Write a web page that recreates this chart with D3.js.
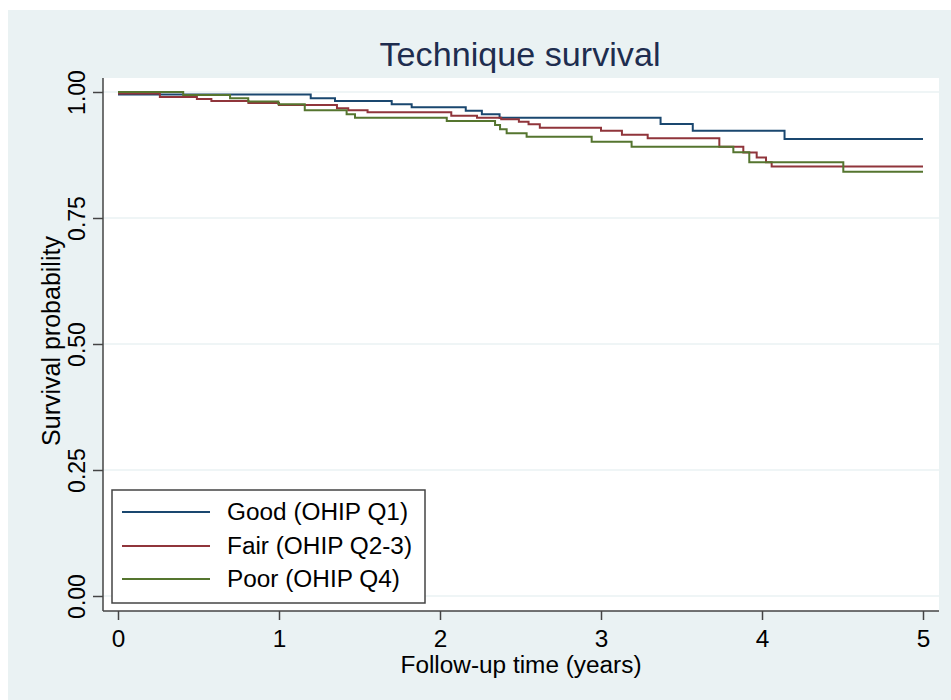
<!DOCTYPE html>
<html>
<head>
<meta charset="utf-8">
<script src="https://cdn.jsdelivr.net/npm/d3@7"></script>
<style>
  html, body { margin: 0; padding: 0; background: #ffffff; }
  svg { display: block; font-family: "Liberation Sans", Arial, Helvetica, sans-serif; }
</style>
</head>
<body>
<svg id="chart" width="951" height="700"></svg>
<script>
// ---- Data (Kaplan-Meier step points: time in years, survival probability) ----
const seriesNames = ["Good (OHIP Q1)", "Fair (OHIP Q2-3)", "Poor (OHIP Q4)"];
const seriesColors = ["#1a476f", "#90353b", "#55752f"];

const goodTimes = [0, 1.197, 1.348, 1.70, 1.824, 2.16, 2.26, 2.37, 3.37, 3.57, 4.14, 5.0];
const goodSurv  = [0.995, 0.9875, 0.982, 0.9755, 0.9696, 0.963, 0.956, 0.949, 0.9365, 0.923, 0.9067, 0.9067];

const fairTimes = [0, 0.26, 0.49, 0.58, 0.81, 1.0, 1.36, 1.43, 1.55, 2.07, 2.23, 2.38, 2.49, 2.55, 2.62, 3.00, 3.13, 3.29, 3.735, 3.884, 3.967, 4.025, 4.06, 5.0];
const fairSurv  = [0.997, 0.990, 0.986, 0.982, 0.978, 0.974, 0.968, 0.964, 0.960, 0.953, 0.949, 0.946, 0.941, 0.936, 0.929, 0.923, 0.915, 0.908, 0.8915, 0.880, 0.870, 0.8605, 0.852, 0.852];

const poorTimes = [0, 0.405, 0.696, 0.809, 0.996, 1.16, 1.42, 1.472, 2.042, 2.342, 2.373, 2.414, 2.538, 2.942, 3.19, 3.822, 3.921, 4.505, 5.0];
const poorSurv  = [1.0, 0.994, 0.9875, 0.981, 0.9755, 0.964, 0.956, 0.949, 0.9425, 0.9345, 0.926, 0.918, 0.9114, 0.9014, 0.8915, 0.8803, 0.8605, 0.842, 0.842];

const xTicks = [0, 1, 2, 3, 4, 5];
const yTicks = [0, 0.25, 0.5, 0.75, 1];

const titleText = "Technique survival";
const xTitle = "Follow-up time (years)";
const yTitle = "Survival probability";

// ---- Build ----
const series = [
  { name: seriesNames[0], color: seriesColors[0], pts: goodTimes.map((t, i) => [t, goodSurv[i]]) },
  { name: seriesNames[1], color: seriesColors[1], pts: fairTimes.map((t, i) => [t, fairSurv[i]]) },
  { name: seriesNames[2], color: seriesColors[2], pts: poorTimes.map((t, i) => [t, poorSurv[i]]) }
];

const svg = d3.select("#chart");
const W = 951, H = 700;
const plot = { left: 103, right: 939, top: 78, bottom: 611 };
const SX = 1.06; // slight horizontal stretch of horizontal texts, as in the reference

const x = d3.scaleLinear().domain([0, 5]).range([118, 923]);
const y = d3.scaleLinear().domain([0, 1]).range([596, 92]);

// helper: horizontally stretched text anchored at (px, py)
function hText(parent, px, py, str, size, anchor, sx, color) {
  return parent.append("text")
    .attr("transform", `translate(${px},${py}) scale(${sx},1)`)
    .attr("x", 0).attr("y", 0)
    .attr("text-anchor", anchor)
    .attr("font-size", size).attr("fill", color).text(str);
}

// outer background
svg.append("rect").attr("x", 8).attr("y", 10).attr("width", W - 8).attr("height", H - 10)
  .attr("fill", "#eaf2f3");

// plot region
svg.append("rect").attr("x", plot.left).attr("y", plot.top)
  .attr("width", plot.right - plot.left).attr("height", plot.bottom - plot.top)
  .attr("fill", "#ffffff");

// gridlines
svg.append("g").selectAll("line").data(yTicks).join("line")
  .attr("x1", plot.left).attr("x2", plot.right)
  .attr("y1", d => y(d)).attr("y2", d => y(d))
  .attr("stroke", "#eaf2f3").attr("stroke-width", 1.5);

// title
hText(svg, 520, 66, titleText, 33, "middle", 1.035, "#1e2d4f");

// y axis
const yAxis = svg.append("g").attr("transform", `translate(${plot.left},0)`)
  .call(d3.axisLeft(y).tickValues(yTicks).tickSize(10).tickSizeOuter(0).tickFormat(d3.format(".2f")));
yAxis.select(".domain").remove();
yAxis.selectAll(".tick line").attr("stroke", "#444").attr("stroke-width", 1.5);
yAxis.selectAll(".tick text")
  .attr("transform", "rotate(-90)")
  .attr("x", 0).attr("y", -18).attr("dy", 0)
  .attr("text-anchor", "middle")
  .attr("font-size", 23).attr("fill", "#000")
  .style("font-family", "'Liberation Sans', Arial, sans-serif");
svg.append("line").attr("x1", plot.left).attr("x2", plot.left)
  .attr("y1", plot.top).attr("y2", plot.bottom).attr("stroke", "#444").attr("stroke-width", 1.5);

// x axis
const xAxis = svg.append("g").attr("transform", `translate(0,${plot.bottom})`)
  .call(d3.axisBottom(x).tickValues(xTicks).tickSize(9).tickSizeOuter(0).tickFormat(d3.format("d")));
xAxis.select(".domain").remove();
xAxis.selectAll(".tick line").attr("stroke", "#444").attr("stroke-width", 1.5);
xAxis.selectAll(".tick text")
  .attr("y", 36).attr("dy", 0)
  .attr("font-size", 23).attr("fill", "#000")
  .attr("transform", `scale(${SX},1)`)
  .style("font-family", "'Liberation Sans', Arial, sans-serif");
svg.append("line").attr("x1", plot.left).attr("x2", plot.right)
  .attr("y1", plot.bottom).attr("y2", plot.bottom).attr("stroke", "#444").attr("stroke-width", 1.5);

// axis titles
hText(svg, 521, 673, xTitle, 23, "middle", SX, "#000");
svg.append("text").attr("transform", "translate(60,341) rotate(-90)").attr("text-anchor", "middle")
  .attr("font-size", 25).attr("fill", "#000").text(yTitle);

// KM step curves
const line = d3.line().curve(d3.curveStepAfter).x(d => x(d[0])).y(d => y(d[1]));
svg.append("g").selectAll("path").data(series).join("path")
  .attr("d", d => line(d.pts))
  .attr("fill", "none")
  .attr("stroke", d => d.color)
  .attr("stroke-width", 2);

// legend
const lg = svg.append("g");
lg.append("rect").attr("x", 112).attr("y", 490).attr("width", 313).attr("height", 113)
  .attr("fill", "#ffffff").attr("stroke", "#444").attr("stroke-width", 1.5);
const rowY = [512, 546, 579];
series.forEach((s, i) => {
  lg.append("line").attr("x1", 122).attr("x2", 210).attr("y1", rowY[i]).attr("y2", rowY[i])
    .attr("stroke", s.color).attr("stroke-width", 2);
  hText(lg, 227, rowY[i] + 8, s.name, 23, "start", SX, "#000");
});
</script>
</body>
</html>
